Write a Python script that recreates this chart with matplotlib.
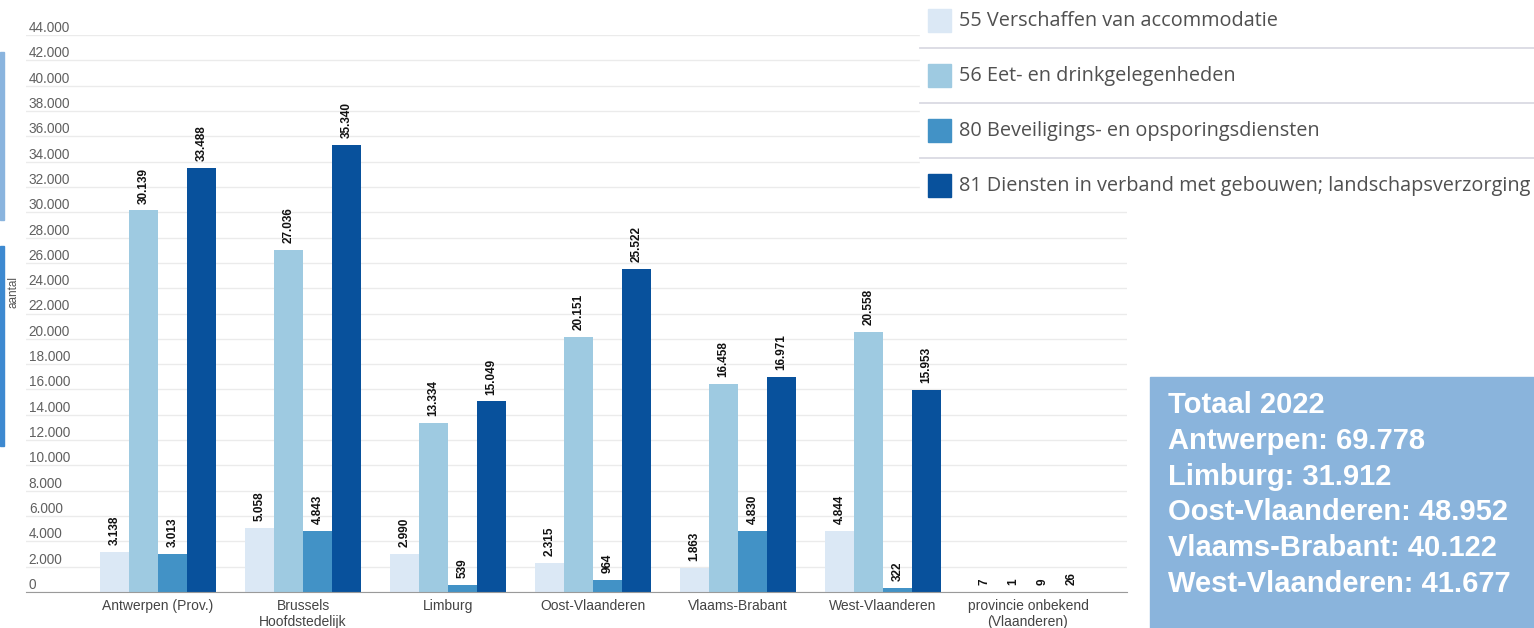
import numpy as np
import matplotlib
matplotlib.use('Agg')
import matplotlib.pyplot as plt
from matplotlib.patches import Rectangle
from matplotlib.lines import Line2D

# data
provinces = ['Antwerpen (Prov.)', 'Brussels\nHoofdstedelijk', 'Limburg', 'Oost-Vlaanderen',
             'Vlaams-Brabant', 'West-Vlaanderen', 'provincie onbekend\n(Vlaanderen)']
series_names = ['55 Verschaffen van accommodatie', '56 Eet- en drinkgelegenheden',
                '80 Beveiligings- en opsporingsdiensten',
                '81 Diensten in verband met gebouwen; landschapsverzorging']
s55 = [3138, 5058, 2990, 2315, 1863, 4844, 7]
s56 = [30139, 27036, 13334, 20151, 16458, 20558, 1]
s80 = [3013, 4843, 539, 964, 4830, 322, 9]
s81 = [33488, 35340, 15049, 25522, 16971, 15953, 26]
series = [s55, s56, s80, s81]
colors = ['#dbe8f5', '#9ecae1', '#4292c6', '#08519c']

total_names = ['Antwerpen', 'Limburg', 'Oost-Vlaanderen', 'Vlaams-Brabant', 'West-Vlaanderen']
total_values = [69778, 31912, 48952, 40122, 41677]

W, H = 1534, 628


def fmt(v):
    return '{:,}'.format(v).replace(',', '.')


def px(x, y):
    # pixel (from top-left) to figure fraction
    return x / W, 1 - y / H


fig = plt.figure(figsize=(W / 100, H / 100), dpi=100)
plt.rcParams['font.family'] = ['Liberation Sans', 'DejaVu Sans']

left, right, bottom, top = 26, 1127, 592, 35
ax = fig.add_axes([left / W, 1 - bottom / H, (right - left) / W, (bottom - top) / H])

x = np.arange(len(provinces))
bw = 0.2
for k, (vals, col) in enumerate(zip(series, colors)):
    pos = x + (k - 1.5) * bw
    ax.bar(pos, vals, width=bw, color=col, zorder=2)
    for xx, v in zip(pos, vals):
        ax.annotate(fmt(v), (xx, v), xytext=(0, 5), textcoords='offset points',
                    rotation=90, ha='center', va='bottom', fontsize=8.5,
                    fontweight='bold', color='#111111')

ax.set_xlim((left - 158) / 145, (right - 158) / 145)
ax.set_ylim(0, 44000)
yt = np.arange(0, 44001, 2000)
ax.set_yticks(yt)
ax.set_yticklabels([fmt(int(v)) for v in yt])
ax.tick_params(axis='y', length=0, pad=-2, labelsize=9.8, labelcolor='#606060')
for lab in ax.get_yticklabels():
    lab.set_horizontalalignment('left')
    lab.set_verticalalignment('bottom')
ax.grid(axis='y', color='#ebebeb', lw=1, zorder=0)
ax.set_xticks(x)
ax.set_xticklabels(provinces)
ax.tick_params(axis='x', length=0, pad=5, labelsize=10, labelcolor='#444444')
for s in ['top', 'right', 'left']:
    ax.spines[s].set_visible(False)
ax.spines['bottom'].set_color('#9a9a9a')
ax.spines['bottom'].set_zorder(3)

fig.text(*px(14, 292), 'aantal', rotation=90, ha='center', va='center',
         fontsize=8.5, color='#555555')

# blue markers at the left edge
fig.patches.append(Rectangle(px(0, 220), 4 / W, 168 / H, transform=fig.transFigure,
                             color='#8ab4de', zorder=5))
fig.patches.append(Rectangle(px(0, 446), 4 / W, 200 / H, transform=fig.transFigure,
                             color='#3d89d0', zorder=5))

# legend panel
fig.patches.append(Rectangle(px(920, 205), (W - 920) / W, 205 / H, transform=fig.transFigure,
                             color='white', zorder=5))
for i, (name, col) in enumerate(zip(series_names, colors)):
    yc = 21 + 55 * i
    fig.patches.append(Rectangle(px(928, yc + 11), 23 / W, 23 / H, transform=fig.transFigure,
                                 color=col, zorder=6))
    fig.text(*px(959, yc), name, ha='left', va='center', fontsize=14.3,
             family=['Open Sans', 'DejaVu Sans'], color='#505050', zorder=6)
    if i < 3:
        ly = 48 + 55 * i
        fig.lines.append(Line2D([920 / W, 1], [1 - ly / H, 1 - ly / H], transform=fig.transFigure,
                                color='#dadae3', lw=1.3, zorder=6))

# totals box
fig.patches.append(Rectangle(px(1150, 628), (W - 1150) / W, (628 - 377) / H,
                             transform=fig.transFigure, color='#8ab4dc', zorder=5))
lines = ['Totaal 2022'] + ['{}: {}'.format(n, fmt(v)) for n, v in zip(total_names, total_values)]
for i, t in enumerate(lines):
    fig.text(*px(1168, 405 + 35.8 * i), t, ha='left', va='center', fontsize=21,
             fontweight='bold', color='white', zorder=6)

fig.savefig('out.png', dpi=100)
